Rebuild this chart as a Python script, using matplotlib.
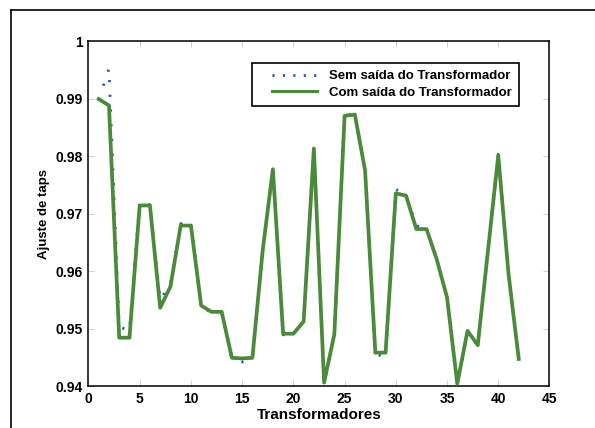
import matplotlib
matplotlib.use("Agg")
import matplotlib.pyplot as plt
from matplotlib.lines import Line2D
from matplotlib.legend_handler import HandlerLine2D
import numpy as np

plt.rcParams["font.family"] = ["Liberation Sans", "DejaVu Sans"]
plt.rcParams["font.weight"] = "bold"

transformadores = np.arange(1, 43)

sem_saida = [0.9898, 0.9952, 0.9503, 0.9496, 0.9722, 0.9715, 0.9550, 0.9578, 0.9682, 0.9686,
             0.9538, 0.9528, 0.9529, 0.9447, 0.9442, 0.9449, 0.9635, 0.9778, 0.9489, 0.9491,
             0.9512, 0.9813, 0.9406, 0.9490, 0.9871, 0.9872, 0.9775, 0.9457, 0.9449, 0.9742,
             0.9732, 0.9679, 0.9672, 0.9620, 0.9554, 0.9404, 0.9493, 0.9471, 0.9636, 0.9803,
             0.9595, 0.9447]

com_saida = [0.9899, 0.9888, 0.9484, 0.9484, 0.9714, 0.9714, 0.9536, 0.9573, 0.9679, 0.9679,
             0.9540, 0.9529, 0.9529, 0.9449, 0.9448, 0.9449, 0.9635, 0.9777, 0.9491, 0.9491,
             0.9512, 0.9813, 0.9406, 0.9490, 0.9870, 0.9872, 0.9775, 0.9458, 0.9458, 0.9735,
             0.9731, 0.9673, 0.9673, 0.9620, 0.9554, 0.9404, 0.9496, 0.9471, 0.9636, 0.9801,
             0.9595, 0.9447]

xticks = [0, 5, 10, 15, 20, 25, 30, 35, 40, 45]
yticks = [0.94, 0.95, 0.96, 0.97, 0.98, 0.99, 1.0]
ytick_labels = ["0.94", "0.95", "0.96", "0.97", "0.98", "0.99", "1"]

azul = "#1a52b5"
verde = "#4b8a3b"

fig = plt.figure(figsize=(5.95, 4.28), dpi=100)
ax = fig.add_axes([0.1487, 0.0981, 0.7748, 0.8061])

ax.plot(transformadores, sem_saida, color=azul, linewidth=2.0,
        linestyle=(0, (0.75, 4.55)), dash_capstyle="butt", zorder=2)
ax.plot(transformadores, com_saida, color=verde, linewidth=2.7, zorder=3)

ax.set_xlim(0, 45)
ax.set_ylim(0.94, 1.0)
ax.set_xticks(xticks)
ax.set_xticklabels([str(t) for t in xticks])
ax.set_yticks(yticks)
ax.set_yticklabels(ytick_labels)
ax.tick_params(direction="in", length=4, width=0.6, color="#c8c8c8",
               labelcolor="black", labelsize=10, top=True, right=True, pad=4)
for s in ax.spines.values():
    s.set_linewidth(1.1)
    s.set_color("black")

ax.set_xlabel("Transformadores", fontsize=11, fontweight="bold", labelpad=2)
ax.set_ylabel("Ajuste de taps", fontsize=9.5, fontweight="bold", labelpad=4)

handles = [
    Line2D([], [], color=azul, linewidth=2.0, linestyle=(0, (0.75, 3.0)),
           dash_capstyle="butt"),
    Line2D([], [], color=verde, linewidth=2.2),
]
leg = ax.legend(handles, ["Sem saída do Transformador", "Com saída do Transformador"],
                loc="upper right", bbox_to_anchor=(0.9345, 0.937), borderaxespad=0,
                fancybox=False, framealpha=1, edgecolor="black", fontsize=9.5,
                handlelength=4.35, handletextpad=0.95, borderpad=0.55, labelspacing=0.35,
                handler_map={Line2D: HandlerLine2D(xpad=0.95)})
leg.get_frame().set_linewidth(1.2)

# moldura da figura (só topo e esquerda)
fig.add_artist(Line2D([11 / 595, 1.0], [1 - 10 / 428, 1 - 10 / 428],
                      transform=fig.transFigure, color="black", linewidth=1.2))
fig.add_artist(Line2D([11 / 595, 11 / 595], [0.0, 1 - 10 / 428],
                      transform=fig.transFigure, color="black", linewidth=1.2))

fig.savefig("out.png", dpi=100)
